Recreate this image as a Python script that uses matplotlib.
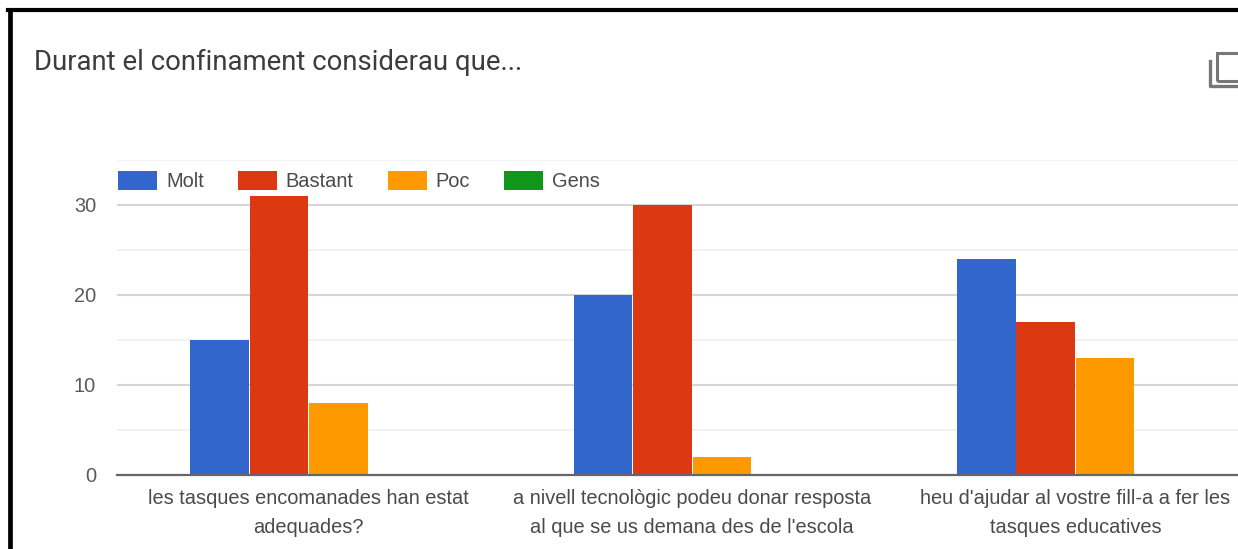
import matplotlib
matplotlib.use("Agg")
import matplotlib.pyplot as plt
from matplotlib.lines import Line2D
from matplotlib.patches import Rectangle
import numpy as np

plt.rcParams['font.family'] = ['Liberation Sans', 'DejaVu Sans']

title = "Durant el confinament considerau que..."
categories = ["les tasques encomanades han estat\nadequades?",
              "a nivell tecnològic podeu donar resposta\nal que se us demana des de l'escola",
              "heu d'ajudar al vostre fill-a a fer les\ntasques educatives"]
series_names = ["Molt", "Bastant", "Poc", "Gens"]
molt = [15, 20, 24]
bastant = [31, 30, 17]
poc = [8, 2, 13]
gens = [0, 0, 0]
colors = ["#3366CC", "#DC3912", "#FF9900", "#109618"]
major_ticks = [0, 10, 20, 30]
minor_ticks = [5, 15, 25, 35]

W, H = 1238, 549
fig = plt.figure(figsize=(W / 100, H / 100), dpi=100, facecolor="white")

def fx(px): return px / W
def fy(py): return 1 - py / H

ax = fig.add_axes([fx(117), fy(474.6), fx(1238 - 117), (474.6 - 159.6) / H])
ax.set_xlim(-0.5, 2.424)
ax.set_ylim(0, 35)

width = 0.155
x = np.arange(len(categories))
handles = []
for i, (vals, c, n) in enumerate(zip([molt, bastant, poc, gens], colors, series_names)):
    b = ax.bar(x + (i - 1.5) * width, vals, width * 0.985, color=c, label=n, zorder=3, clip_on=False)
    handles.append(b)

ax.set_yticks(major_ticks)
ax.set_yticks(minor_ticks, minor=True)
ax.set_xticks(x)
ax.set_xticklabels(categories, fontsize=14.4, color="#4a4a4a", linespacing=1.66)
ax.tick_params(axis="x", length=0, pad=10.5)
ax.tick_params(axis="y", which="both", length=0, pad=15, labelsize=14.4, labelcolor="#5a5a5a")
ax.grid(True, axis="y", which="major", color="#d6d6d6", lw=1.5, zorder=1)
ax.grid(True, axis="y", which="minor", color="#f0f0f0", lw=1.2, zorder=1)
for s in ["top", "right", "left"]:
    ax.spines[s].set_visible(False)
ax.spines["bottom"].set_color("#666666")
ax.spines["bottom"].set_linewidth(1.6)
ax.spines["bottom"].set_zorder(4)

fig.legend(handles=handles, labels=series_names, loc="upper left",
           bbox_to_anchor=(fx(118), fy(171)), ncol=4, frameon=False, fontsize=14.4,
           labelcolor="#4a4a4a", handlelength=1.95, handleheight=1.05, handletextpad=0.45,
           columnspacing=1.7, borderpad=0, borderaxespad=0)

fig.text(fx(34), fy(62), title, fontsize=19.85, color="#3c3c3c", family=["Roboto", "DejaVu Sans"],
         ha="left", va="center")

# screenshot frame
fig.add_artist(Line2D([fx(9.5), fx(9.5)], [fy(10), 0], color="black", lw=3.4))
fig.add_artist(Line2D([fx(8), 1], [fy(10), fy(10)], color="black", lw=3.0))

# copy icon
ic = "#777777"
fig.add_artist(Rectangle((fx(1217), fy(81)), (1245 - 1217) / W, (81 - 53) / H, fill=False,
                         edgecolor=ic, lw=2.2, transform=fig.transFigure))
fig.add_artist(Line2D([fx(1209.5), fx(1209.5), fx(1237)], [fy(61), fy(86), fy(86)], color=ic, lw=2.4))

fig.savefig("out.png", dpi=100)
